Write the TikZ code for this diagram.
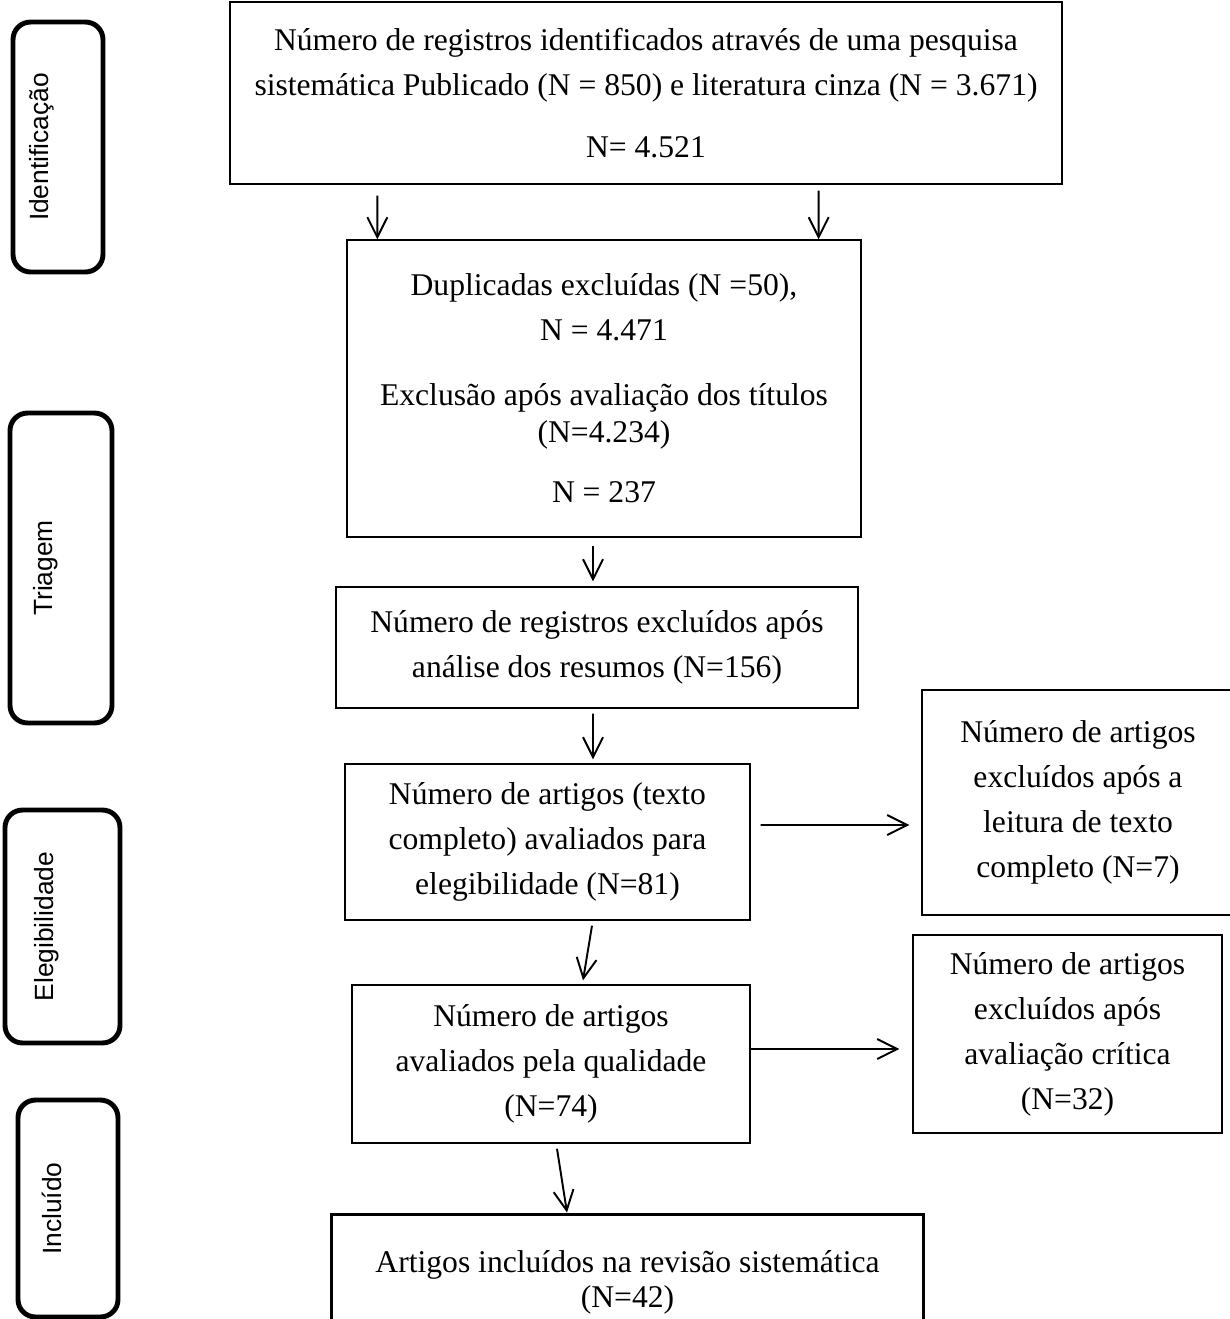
\documentclass[tikz,border=0pt]{standalone}
\usepackage{fontspec}
\setmainfont{Liberation Serif}
\newfontfamily\sidefont{Liberation Sans}
\usetikzlibrary{arrows.meta, calc}
\tikzstyle{stage} = [rectangle, rounded corners=0.35cm, line width=2.8pt, draw=black, rotate=90, inner sep=0pt, font=\sidefont\fontsize{15}{18}\selectfont]
\tikzstyle{process} = [rectangle, draw=black, line width=0.8pt, align=center, inner sep=0pt, font=\fontsize{18}{25.6}\selectfont]
\tikzstyle{arrow} = [line width=1.1pt, -{Straight Barb[length=0.4cm, width=0.4cm]}]
\newcommand{\stagetext}[1]{\raisebox{9pt}[\height][\depth]{#1}}

\begin{document}
\begin{tikzpicture}[x=0.02cm, y=-0.02cm]

\useasboundingbox (0,0) rectangle (1230,1319);

\node (ident) [stage, minimum width=5cm, minimum height=1.8cm] at (58,147) {\stagetext{Identificação}};
\node (triagem) [stage, minimum width=6.2cm, minimum height=2.04cm] at (61,568) {\stagetext{Triagem}};
\node (eleg) [stage, minimum width=4.66cm, minimum height=2.3cm] at (62.5,926.5) {\stagetext{Elegibilidade}};
\node (incl) [stage, minimum width=4.34cm, minimum height=2cm] at (68,1208.5) {\stagetext{Incluído}};

\node (records) [process, minimum width=16.64cm, minimum height=3.64cm] at (646,93) {Número de registros identificados através de uma pesquisa\\ sistemática Publicado (N = 850) e literatura cinza (N = 3.671)\\[9.7pt] N= 4.521};
\node (dedup) [process, minimum width=10.28cm, minimum height=5.94cm] at (604,388.5) {Duplicadas excluídas (N =50),\\ N = 4.471\\[11.4pt] Exclusão após avaliação dos títulos\\[-4.6pt] (N=4.234)\\[8.5pt] N = 237};
\node (abstracts) [process, minimum width=10.44cm, minimum height=2.42cm] at (597,647.5) {Número de registros excluídos após\\ análise dos resumos (N=156)};
\node (fulltext) [process, minimum width=8.1cm, minimum height=3.12cm] at (547.5,842) {Número de artigos (texto\\ completo) avaliados para\\ elegibilidade (N=81)};
\node (exclfull) [process, minimum width=6.24cm, minimum height=4.5cm] at (1078,802.5) {Número de artigos\\ excluídos após a\\ leitura de texto\\ completo (N=7)};
\node (quality) [process, minimum width=7.96cm, minimum height=3.16cm] at (551,1064) {Número de artigos\\ avaliados pela qualidade\\ (N=74)};
\node (exclqual) [process, minimum width=6.18cm, minimum height=3.96cm] at (1067.5,1034) {Número de artigos\\ excluídos após\\ avaliação crítica\\ (N=32)};
\node (included) [process, line width=1.7pt, minimum width=11.86cm, minimum height=2.72cm] at (627.5,1282) {Artigos incluídos na revisão sistemática\\[-5.7pt] (N=42)};

\draw [arrow] ($(records.south west)+(148,11)$) -- ($(dedup.north west)+(31,0)$);
\draw [arrow] ($(records.south east)+(-244,6)$) -- ($(dedup.north east)+(-43,0)$);
\draw [arrow] ($(dedup.south)+(-11,8)$) -- ($(abstracts.north)+(-4,-5)$);
\draw [arrow] ($(abstracts.south)+(-4,5)$) -- ($(fulltext.north)+(45.5,-4)$);
\draw [arrow] ($(fulltext.east)+(10,-17)$) -- ($(exclfull.west)+(-12,22.5)$);
\draw [arrow] ($(fulltext.south)+(44.5,5)$) -- ($(quality.north)+(32,-4)$);
\draw [arrow] ($(quality.east)+(-2,-15)$) -- ($(exclqual.west)+(-13,15)$);
\draw [arrow] ($(quality.south)+(6,5)$) -- ($(included.north)+(-60.5,0)$);

\end{tikzpicture}
\end{document}
